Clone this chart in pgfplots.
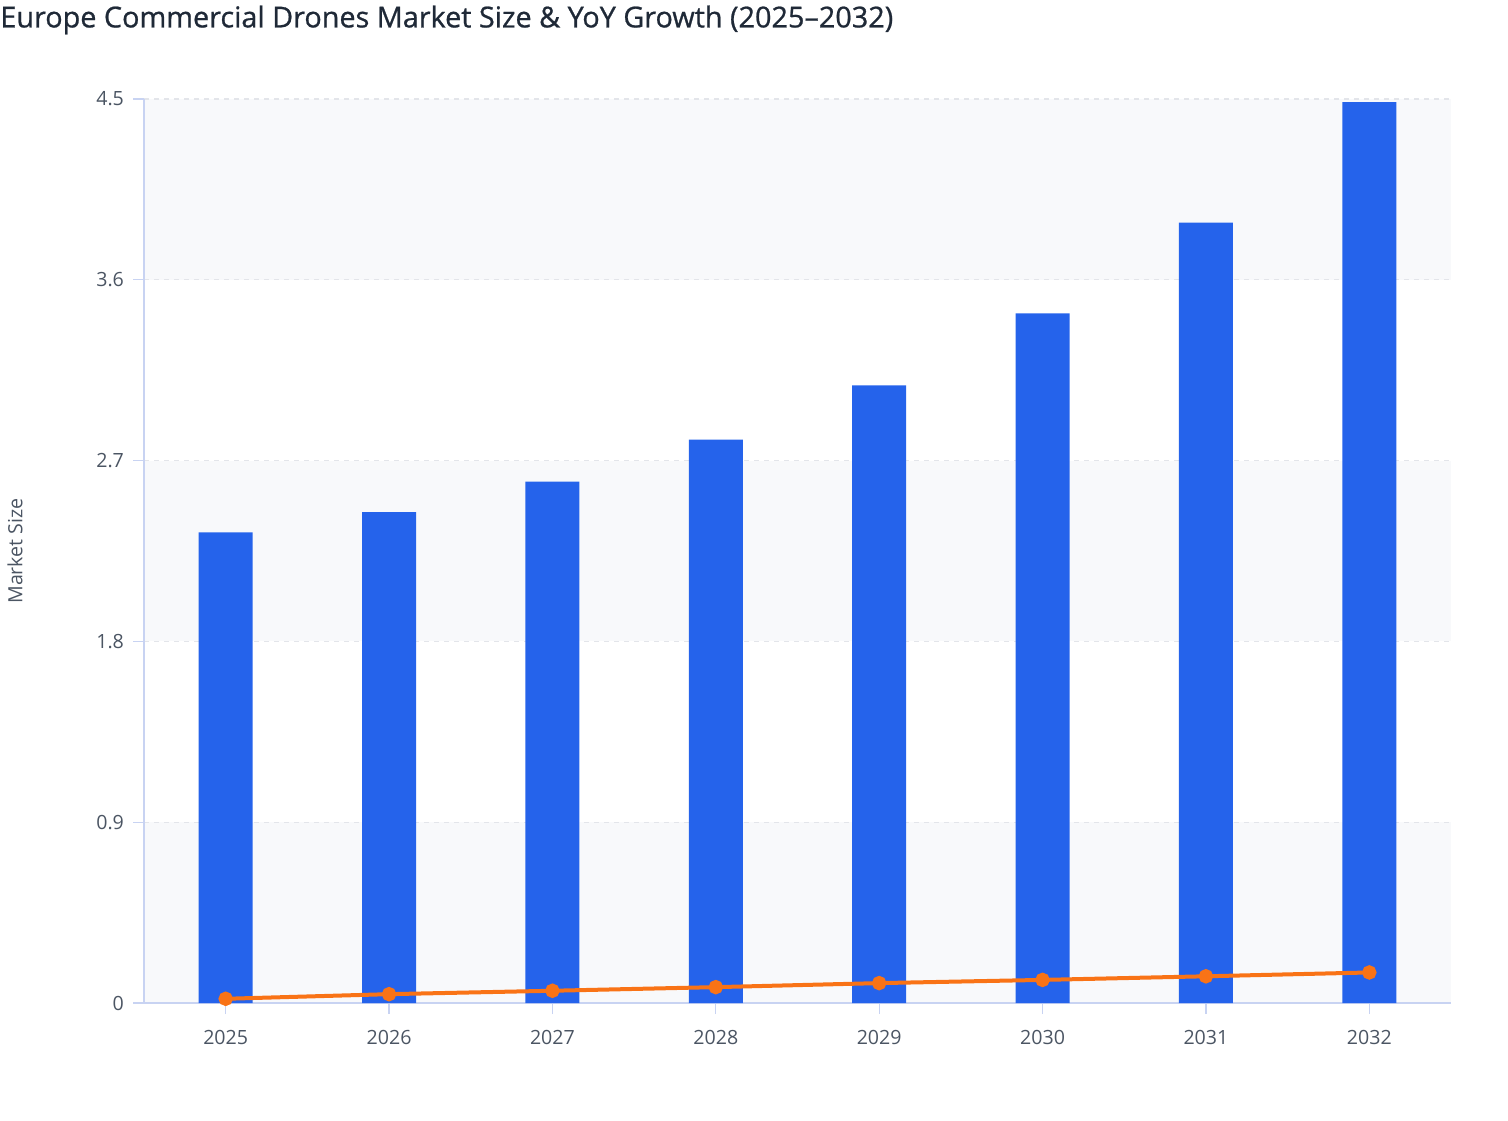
\documentclass[border=0pt]{standalone}
\usepackage{pgfplots}
\pgfplotsset{compat=1.18}
\usepackage{fontspec}
\setmainfont{Open Sans}
\newfontface\titlefont{Open Sans}[Ligatures=TeX, FakeBold=0.8]

\definecolor{barblue}{HTML}{2563EB}
\definecolor{lineorange}{HTML}{F97316}
\definecolor{band}{HTML}{F8F9FB}
\definecolor{gridgray}{HTML}{E3E5EA}
\definecolor{axisline}{HTML}{C8D3F2}
\definecolor{ticktext}{HTML}{4B5563}
\definecolor{titletext}{HTML}{1F2937}

% market size per year (bars) and YoY growth (line)
\pgfplotstableread{
x  size   growth
0  2.343  0.021
1  2.444  0.044
2  2.595  0.061
3  2.804  0.079
4  3.075  0.099
5  3.433  0.115
6  3.885  0.133
7  4.484  0.152
}\drones

\begin{document}
\begin{tikzpicture}
\begin{axis}[
  set layers,
  scale only axis,
  width=653.5pt, height=452pt,
  xmin=-0.5, xmax=7.5,
  ymin=0, ymax=4.5,
  xtick={0,...,7},
  xticklabels={2025,2026,2027,2028,2029,2030,2031,2032},
  ytick={0,0.9,1.8,2.7,3.6,4.5},
  yticklabels={0,0.9,1.8,2.7,3.6,4.5},
  axis x line*=bottom, axis y line*=left,
  axis line style={axisline, line width=0.6pt, -},
  tick style={axisline, line width=0.6pt},
  tick align=outside,
  major tick length=5.5pt,
  ymajorgrids,
  grid style={gridgray, line width=0.6pt, dash pattern=on 2.5pt off 2.5pt},
  tick label style={font=\fontsize{9.8}{11}\selectfont, text=ticktext},
  xticklabel style={yshift=-4.5pt},
  yticklabel style={xshift=-1pt},
  /pgf/number format/assume math mode=true,
  ylabel={Market Size},
  ylabel style={font=\fontsize{9.8}{11}\selectfont, text=ticktext},
  ylabel shift=30pt,
  clip=false,
]
\begin{pgfonlayer}{axis background}
  \fill[band] (axis cs:-0.5,0) rectangle (axis cs:7.5,0.9);
  \fill[band] (axis cs:-0.5,1.8) rectangle (axis cs:7.5,2.7);
  \fill[band] (axis cs:-0.5,3.6) rectangle (axis cs:7.5,4.5);
\end{pgfonlayer}
\addplot[ybar, bar width=27pt, fill=barblue, draw=none] table[x=x, y=size] {\drones};
\addplot[lineorange, line width=2pt, mark=*, mark size=2.6pt,
  mark options={fill=lineorange, draw=lineorange}] table[x=x, y=growth] {\drones};
\end{axis}
\pgfresetboundingbox
\path (current axis.south west) ++(-72pt,-58.5pt) coordinate (bl) rectangle ++(754pt,560pt) coordinate (tr);
\node[anchor=base west, inner sep=0pt, text=titletext, font=\titlefont\fontsize{14.4}{17}\selectfont]
  at ([yshift=-13.7pt] bl |- tr) {Europe Commercial Drones Market Size \& YoY Growth (2025--2032)};
\end{tikzpicture}
\end{document}
